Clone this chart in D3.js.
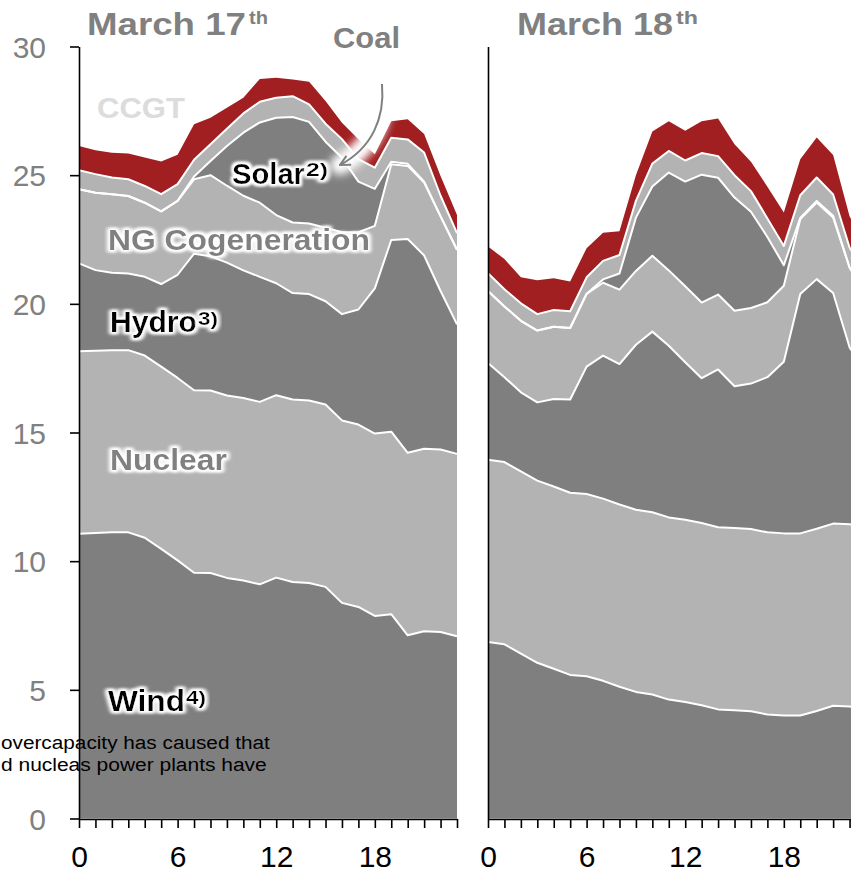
<!DOCTYPE html>
<html>
<head>
<meta charset="utf-8">
<script src="https://cdn.jsdelivr.net/npm/d3@7"></script>
<style>
  html, body { margin: 0; padding: 0; background: #ffffff; }
  svg { display: block; font-family: "Liberation Sans", Arial, sans-serif; }
</style>
</head>
<body>
<svg id="chart" width="851" height="873"></svg>
<script>
// Hourly generation by source, GW (stacked bottom to top)
const hours = d3.range(24);
const hourTicks = d3.range(24);
const hourLabels = [0, 6, 12, 18];
const yTicks = [0, 5, 10, 15, 20, 25, 30];
const seriesKeys = ["wind", "nuclear", "hydro", "cogeneration", "solar", "coal", "ccgt"];

// March 17th
const wind17 = [11.07,11.09,11.12,11.12,10.91,10.48,10.03,9.55,9.54,9.35,9.25,9.10,9.36,9.19,9.15,9.00,8.38,8.22,7.87,7.94,7.12,7.28,7.25,7.08];
const nuclear17 = [7.09,7.09,7.08,7.08,7.08,7.08,7.09,7.09,7.09,7.09,7.09,7.09,7.09,7.09,7.09,7.09,7.09,7.09,7.09,7.09,7.09,7.09,7.09,7.09];
const hydro17 = [3.41,3.13,3.01,2.98,3.06,3.21,4.01,5.31,5.22,5.16,4.96,4.86,4.35,4.14,4.14,4.01,4.13,4.47,5.64,7.45,8.31,7.51,6.16,5.03];
const cogeneration17 = [2.88,3.01,3.05,3.01,2.88,2.82,2.87,2.89,3.15,2.99,2.90,2.88,2.65,2.74,2.74,2.86,3.18,3.00,2.43,2.94,2.84,2.83,2.90,2.90];
const solar17 = [0,0,0,0,0,0,0,0.11,0.55,1.54,2.45,3.12,3.78,4.10,3.95,3.34,2.90,1.97,1.44,0.10,0.08,0.04,0,0];
const coal17 = [0.74,0.72,0.65,0.65,0.65,0.67,0.65,0.65,0.65,0.67,0.75,0.80,0.78,0.81,0.68,0.70,0.72,0.87,0.82,0.93,0.95,1.13,0.80,0.65];
const ccgt17 = [0.94,0.93,0.96,1.00,1.11,1.27,1.14,1.38,1.03,0.82,0.61,0.89,0.78,0.65,0.88,0.88,0.64,0.78,0.52,0.65,0.78,0.72,0.77,0.70];

// March 18th
const wind18 = [6.86,6.77,6.41,6.05,5.82,5.58,5.53,5.35,5.12,4.92,4.82,4.62,4.53,4.40,4.24,4.21,4.17,4.04,4.00,4.00,4.18,4.38,4.35,4.30];
const nuclear18 = [7.08,7.08,7.08,7.08,7.08,7.08,7.08,7.08,7.08,7.08,7.08,7.08,7.08,7.08,7.08,7.08,7.08,7.08,7.08,7.08,7.08,7.08,7.08,7.08];
const hydro18 = [3.76,3.30,3.07,3.04,3.40,3.62,4.95,5.56,5.46,6.41,7.02,6.67,6.12,5.63,6.13,5.51,5.65,6.03,6.67,9.30,9.70,8.96,6.88,6.00];
const cogeneration18 = [2.80,2.75,2.78,2.79,2.81,2.78,2.83,2.83,2.89,2.87,2.95,2.93,2.95,2.94,2.91,2.93,2.94,2.91,2.95,2.91,2.98,2.93,3.10,3.00];
const solar18 = [0,0,0,0,0,0,0,0.13,0.63,2.07,2.69,3.80,4.07,4.97,4.54,4.40,3.74,2.54,0.80,0.05,0.06,0.07,0,0];
const coal18 = [0.69,0.67,0.68,0.64,0.65,0.65,0.64,0.72,0.72,0.65,0.89,0.84,0.82,0.84,0.84,0.87,0.80,0.72,0.75,0.88,0.91,0.83,0.78,0.75];
const ccgt18 = [1.04,1.17,1.01,1.32,1.23,1.16,1.13,1.09,0.92,1.00,1.25,1.16,1.16,1.24,1.46,1.20,1.14,1.23,1.30,1.40,1.55,1.53,1.21,1.10];

const fills = {
  wind: "#7f7f7f", nuclear: "#b3b3b3", hydro: "#7f7f7f", cogeneration: "#b3b3b3",
  solar: "#7f7f7f", coal: "#b3b3b3", ccgt: "#a11f21"
};

function buildRows(w, n, h, c, s, co, cc) {
  return hours.map((hr, i) => ({
    hour: hr, wind: w[i], nuclear: n[i], hydro: h[i], cogeneration: c[i],
    solar: s[i], coal: co[i], ccgt: cc[i]
  }));
}
const rows17 = buildRows(wind17, nuclear17, hydro17, cogeneration17, solar17, coal17, ccgt17);
const rows18 = buildRows(wind18, nuclear18, hydro18, cogeneration18, solar18, coal18, ccgt18);

const svg = d3.select("#chart");
const defs = svg.append("defs");

// white halo behind in-plot labels
const halo = defs.append("filter").attr("id", "halo")
  .attr("x", "-20%").attr("y", "-40%").attr("width", "140%").attr("height", "180%");
halo.append("feMorphology").attr("in", "SourceAlpha").attr("operator", "dilate").attr("radius", 1.5).attr("result", "d");
halo.append("feGaussianBlur").attr("in", "d").attr("stdDeviation", 1.8).attr("result", "b");
halo.append("feFlood").attr("flood-color", "#ffffff").attr("result", "f");
halo.append("feComposite").attr("in", "f").attr("in2", "b").attr("operator", "in").attr("result", "w");
const hm = halo.append("feMerge");
hm.append("feMergeNode").attr("in", "w");
hm.append("feMergeNode").attr("in", "w");
hm.append("feMergeNode").attr("in", "SourceGraphic");

const soft = defs.append("filter").attr("id", "soft")
  .attr("x", "-50%").attr("y", "-50%").attr("width", "200%").attr("height", "200%");
soft.append("feGaussianBlur").attr("stdDeviation", 4);

defs.append("marker").attr("id", "arrowHead")
  .attr("viewBox", "0 0 12 12").attr("refX", 11).attr("refY", 6)
  .attr("markerWidth", 12).attr("markerHeight", 12).attr("markerUnits", "userSpaceOnUse")
  .attr("orient", "auto")
  .append("path").attr("d", "M1,1 L11,6 L1,11")
  .attr("fill", "none").attr("stroke", "#808080").attr("stroke-width", 2);

const y = d3.scaleLinear().domain([0, 30]).range([818.5, 46.5]);
const x17 = d3.scaleLinear().domain([0, 23]).range([79, 457]);
const x18 = d3.scaleLinear().domain([0, 23]).range([488, 866]);

function drawPanel(rows, x) {
  const g = svg.append("g");
  const layers = d3.stack().keys(seriesKeys)(rows);
  const area = d3.area()
    .x(d => x(d.data.hour)).y0(d => y(d[0])).y1(d => y(d[1]));
  g.selectAll("path.layer").data(layers).join("path")
    .attr("class", "layer")
    .attr("d", area)
    .attr("fill", d => fills[d.key]);
  const edge = d3.line().x(d => x(d.data.hour)).y(d => y(d[1]));
  g.selectAll("path.edge").data(layers.slice(0, layers.length - 1)).join("path")
    .attr("class", "edge")
    .attr("d", edge)
    .attr("fill", "none")
    .attr("stroke", "#ffffff")
    .attr("stroke-width", 2)
    .attr("stroke-linejoin", "round");
  return g;
}

drawPanel(rows17, x17);
drawPanel(rows18, x18);

// axes
function styleAxis(sel) {
  sel.selectAll("path.domain").attr("stroke", "#000").attr("stroke-width", 1.6);
  sel.selectAll(".tick line").attr("stroke", "#000").attr("stroke-width", 1.6);
}

const xAxis17 = svg.append("g").attr("transform", "translate(0,819)")
  .call(d3.axisBottom(x17).tickValues(hourTicks).tickSize(9).tickSizeOuter(0)
    .tickFormat(d => hourLabels.includes(d) ? d : ""));
const xAxis18 = svg.append("g").attr("transform", "translate(0,819)")
  .call(d3.axisBottom(x18).tickValues(hourTicks).tickSize(9).tickSizeOuter(0)
    .tickFormat(d => hourLabels.includes(d) ? d : ""));
[xAxis17, xAxis18].forEach(a => {
  styleAxis(a);
  a.selectAll("text").attr("font-size", 30).attr("fill", "#000")
    .attr("font-family", "Liberation Sans, Arial, sans-serif")
    .attr("y", 0).attr("dy", 0).attr("transform", "translate(0,47.5)");
});

const yAxis17 = svg.append("g").attr("transform", "translate(79,0)")
  .call(d3.axisLeft(y).tickValues(yTicks).tickSize(9).tickSizeOuter(0).tickPadding(24));
styleAxis(yAxis17);
yAxis17.selectAll("text").attr("font-size", 30).attr("fill", "#808080")
  .attr("font-family", "Liberation Sans, Arial, sans-serif").attr("dy", "0.36em");

const yAxis18 = svg.append("g").attr("transform", "translate(488,0)")
  .call(d3.axisLeft(y).tickValues([]).tickSize(0).tickSizeOuter(0));
styleAxis(yAxis18);

// text helper: places a label and stretches it horizontally to a given width
function label(txt, x0, y0, size, color, width, opts = {}) {
  const t = svg.append("text")
    .attr("x", 0).attr("y", 0)
    .attr("font-size", size)
    .attr("font-weight", opts.weight || "bold")
    .attr("fill", color)
    .text(txt);
  if (opts.halo) t.attr("filter", "url(#halo)");
  const natural = t.node().getComputedTextLength();
  const sx = width ? width / natural : 1;
  const left = opts.anchor === "end" ? x0 - natural * sx : x0;
  t.attr("transform", `translate(${left},${y0}) scale(${sx},1)`);
  return t;
}

label("March 17", 87, 35, 31, "#808080", 159);
label("th", 249, 24, 19, "#808080", 19);
label("March 18", 517, 35, 31, "#808080", 156);
label("th", 676, 24, 19, "#808080", 22);

// arrow for the thin band
svg.append("path")
  .attr("d", "M382,84 C385,118 372,148 340,165")
  .attr("fill", "none").attr("stroke", "#ffffff").attr("stroke-width", 20)
  .attr("stroke-linecap", "round").attr("filter", "url(#soft)");
svg.append("path")
  .attr("d", "M382,84 C385,118 372,148 340,165")
  .attr("fill", "none").attr("stroke", "#808080").attr("stroke-width", 2)
  .attr("marker-end", "url(#arrowHead)");

label("CCGT", 97, 118, 29, "#dcdcdc", 88);
label("Coal", 333, 48, 29, "#808080", 67);

label("Solar", 232, 184, 29, "#000000", 73, { halo: true });
label("2)", 306, 176, 18, "#000000", 22, { halo: true });
label("NG Cogeneration", 108, 250, 29, "#808080", 262, { halo: true });
label("Hydro", 110, 332, 29, "#000000", 87, { halo: true });
label("3)", 198, 325, 18, "#000000", 20, { halo: true });
label("Nuclear", 110, 470, 29, "#808080", 117, { halo: true });
label("Wind", 108, 711, 29, "#000000", 77, { halo: true });
label("4)", 186, 704, 18, "#000000", 20, { halo: true });

label("overcapacity has caused that", 1, 749, 19, "#000000", 269, { weight: "normal" });
label("d nucleas power plants have", 1, 771, 19, "#000000", 266, { weight: "normal" });
</script>
</body>
</html>
